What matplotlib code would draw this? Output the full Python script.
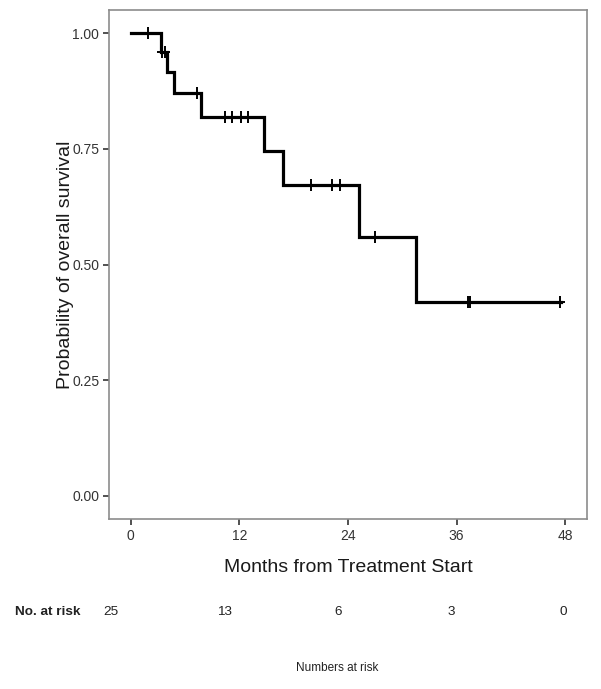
import matplotlib.pyplot as plt
import numpy as np

plt.rcParams['font.family'] = ['Liberation Sans', 'DejaVu Sans']

# Kaplan-Meier step curve
step_times = [0, 3.3, 4.0, 4.8, 7.8, 14.7, 16.8, 25.2, 31.5]
surv = [1.0, 0.96, 0.917, 0.87, 0.819, 0.745, 0.671, 0.559, 0.419]
end_time = 47.5
censor_times = [1.9, 3.5, 3.8, 7.3, 10.4, 11.2, 12.2, 13.0, 19.9, 22.2, 23.1, 27.0, 37.3, 37.5, 47.4]

x_ticks = [0, 12, 24, 36, 48]
y_ticks = [0.0, 0.25, 0.5, 0.75, 1.0]
risk_counts = [25, 13, 6, 3, 0]

fig = plt.figure(figsize=(6.01, 6.89), dpi=100)
ax = fig.add_axes([109 / 601, 1 - 519 / 689, (587 - 109) / 601, (519 - 10) / 689])

xs = step_times + [end_time]
ys = surv + [surv[-1]]
ax.step(xs, ys, where="post", color="black", lw=2.3, solid_joinstyle="miter")

# censor marks sit on the curve
idx = np.searchsorted(step_times, censor_times, side="right") - 1
cens_y = [surv[i] for i in idx]
ax.plot(censor_times, cens_y, ls="none", marker="|", ms=9, mew=1.4, color="black")
ax.plot(censor_times, cens_y, ls="none", marker="_", ms=7, mew=1.4, color="black")

ax.set_xlim(-2.4, 50.4)
ax.set_ylim(-0.05, 1.05)
ax.set_xticks(x_ticks)
ax.set_yticks(y_ticks)
ax.set_xticklabels([str(t) for t in x_ticks])
ax.set_yticklabels([f"{t:.2f}" for t in y_ticks])
ax.tick_params(axis="both", length=4, width=1.2, color="#333333", labelsize=10,
               labelcolor="#333333", pad=3)
for s in ax.spines.values():
    s.set_color("#8c8c8c")
    s.set_linewidth(1.2)

ax.set_xlabel("Months from Treatment Start", fontsize=14, color="#1a1a1a", labelpad=12)
ax.set_ylabel("Probability of overall survival", fontsize=14, color="#1a1a1a", labelpad=-1)

# numbers-at-risk table below the plot
fig.text(15 / 601, 1 - 612 / 689, "No. at risk", fontsize=9.7, fontweight="bold",
         ha="left", va="center", color="#222222")
risk_x = [111, 225, 338, 451, 563]
for px, n in zip(risk_x, risk_counts):
    fig.text(px / 601, 1 - 612 / 689, str(n), fontsize=9.7, ha="center", va="center",
             color="#222222")
fig.text(337 / 601, 1 - 668 / 689, "Numbers at risk", fontsize=8.5, ha="center",
         va="center", color="#222222")

fig.savefig("out.png", dpi=100)
